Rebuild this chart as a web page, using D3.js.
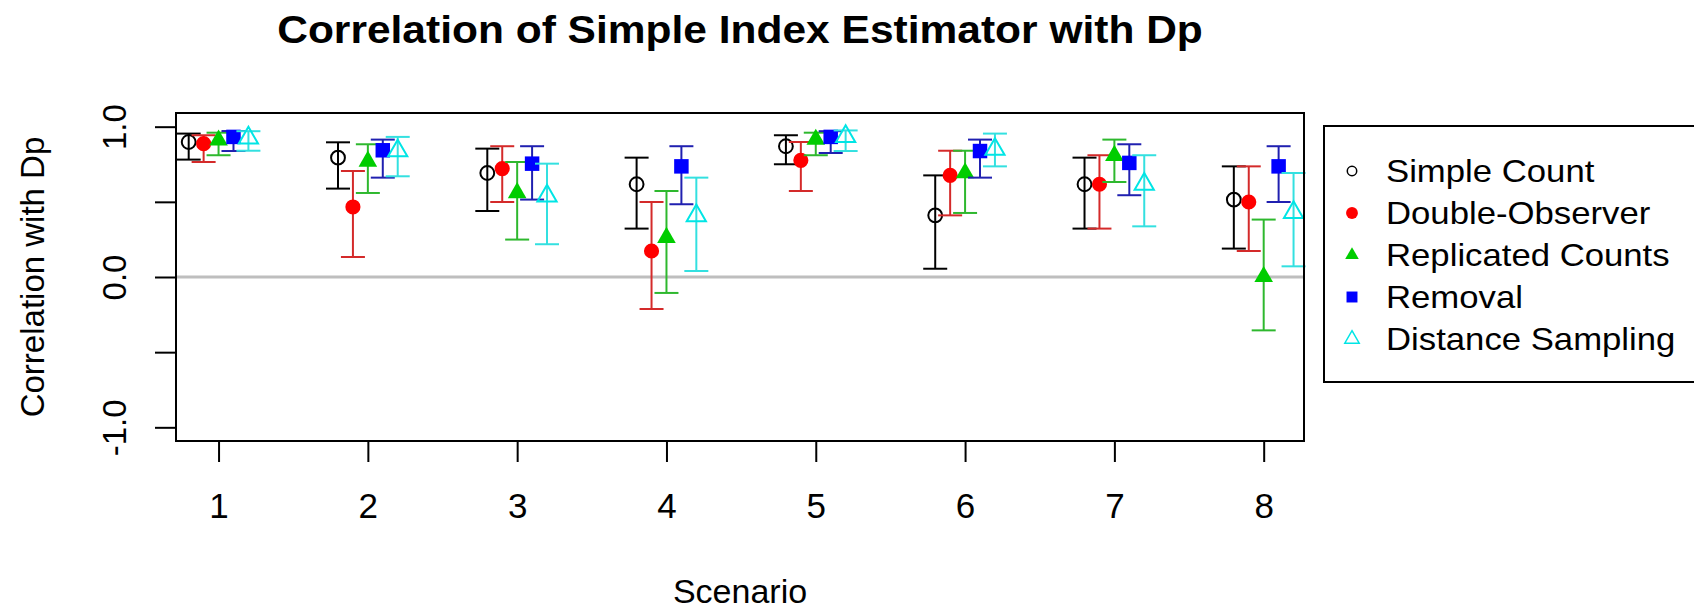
<!DOCTYPE html>
<html>
<head>
<meta charset="utf-8">
<script src="https://cdn.jsdelivr.net/npm/d3@7"></script>
<style>
body { margin: 0; background: #fff; }
svg text { font-family: "Liberation Sans", Arial, sans-serif; fill: #000; }
</style>
</head>
<body>
<svg id="chart" width="1694" height="609"></svg>
<script>
var scenarios = [1, 2, 3, 4, 5, 6, 7, 8];
var method_names = ['Simple Count', 'Double-Observer', 'Replicated Counts', 'Removal', 'Distance Sampling'];

// estimates and interval ends, one entry per scenario
var simple_est = [0.898, 0.794, 0.692, 0.617, 0.870, 0.410, 0.617, 0.515];
var simple_lo  = [0.781, 0.588, 0.439, 0.322, 0.750, 0.055, 0.322, 0.189];
var simple_hi  = [0.954, 0.896, 0.854, 0.794, 0.943, 0.676, 0.794, 0.736];

var double_est = [0.887, 0.466, 0.721, 0.173, 0.776, 0.676, 0.617, 0.499];
var double_lo  = [0.765, 0.133, 0.499, -0.213, 0.572, 0.410, 0.322, 0.173];
var double_hi  = [0.943, 0.705, 0.870, 0.499, 0.898, 0.840, 0.810, 0.736];

var repl_est = [0.910, 0.770, 0.560, 0.262, 0.915, 0.692, 0.808, 0.002];
var repl_lo  = [0.810, 0.559, 0.249, -0.106, 0.810, 0.426, 0.632, -0.355];
var repl_hi  = [0.960, 0.883, 0.765, 0.572, 0.960, 0.840, 0.914, 0.382];

var removal_est = [0.932, 0.843, 0.754, 0.736, 0.932, 0.838, 0.759, 0.736];
var removal_lo  = [0.838, 0.661, 0.515, 0.484, 0.825, 0.661, 0.544, 0.499];
var removal_hi  = [0.971, 0.914, 0.870, 0.870, 0.970, 0.914, 0.883, 0.870];

var dist_est = [0.925, 0.840, 0.540, 0.408, 0.935, 0.850, 0.618, 0.430];
var dist_lo  = [0.840, 0.670, 0.218, 0.040, 0.838, 0.736, 0.337, 0.071];
var dist_hi  = [0.970, 0.932, 0.754, 0.661, 0.975, 0.954, 0.810, 0.692];

var x_offsets = [-0.2, -0.1, 0, 0.1, 0.2];
var y_ticks = [-1, -0.5, 0, 0.5, 1];
var y_tick_labels = ['-1.0', '', '0.0', '', '1.0'];

// styles
var marker_colors = ['#000000', '#ff0000', '#00cd00', '#0000ff', '#00e5e5'];
var bar_colors = ['#000000', '#d42a2a', '#2eb82e', '#2020b0', '#33e0e0'];
var marker_types = [d3.symbolCircle, d3.symbolCircle, d3.symbolTriangle, d3.symbolSquare, d3.symbolTriangle];
var marker_filled = [false, true, true, true, false];
var marker_sizes = [150, 180, 150, 210, 160];
var legend_sizes = [70, 110, 80, 120, 90];

var series = [
	{ est: simple_est, lo: simple_lo, hi: simple_hi },
	{ est: double_est, lo: double_lo, hi: double_hi },
	{ est: repl_est, lo: repl_lo, hi: repl_hi },
	{ est: removal_est, lo: removal_lo, hi: removal_hi },
	{ est: dist_est, lo: dist_lo, hi: dist_hi }
];

var svg = d3.select('#chart');

var x = d3.scaleLinear().domain([0.715, 8.27]).range([176, 1304]);
var y = d3.scaleLinear().domain([-1.091, 1.091]).range([441, 113]);

svg.append('rect').attr('width', 1694).attr('height', 609).attr('fill', '#fff');

// grey reference line at zero
svg.append('line')
	.attr('x1', x.range()[0]).attr('x2', x.range()[1])
	.attr('y1', y(0)).attr('y2', y(0))
	.attr('stroke', '#bebebe').attr('stroke-width', 3);

var cap = 12;

series.forEach(function(s, i)
{
	var pts = scenarios.map(function(sc, j) {
		return { x: sc + x_offsets[i], est: s.est[j], lo: s.lo[j], hi: s.hi[j] };
	});

	var g = svg.append('g').attr('class', 'series');

	g.selectAll('line.bar').data(pts).enter().append('line')
		.attr('x1', function(d) { return x(d.x); })
		.attr('x2', function(d) { return x(d.x); })
		.attr('y1', function(d) { return y(d.lo); })
		.attr('y2', function(d) { return y(d.hi); })
		.attr('stroke', bar_colors[i]).attr('stroke-width', 2);

	['lo', 'hi'].forEach(function(end)
	{
		g.selectAll('line.cap-' + end).data(pts).enter().append('line')
			.attr('x1', function(d) { return x(d.x) - cap; })
			.attr('x2', function(d) { return x(d.x) + cap; })
			.attr('y1', function(d) { return y(d[end]); })
			.attr('y2', function(d) { return y(d[end]); })
			.attr('stroke', bar_colors[i]).attr('stroke-width', 2);
	});

	g.selectAll('path.pt').data(pts).enter().append('path')
		.attr('transform', function(d) { return 'translate(' + x(d.x) + ',' + y(d.est) + ')'; })
		.attr('d', d3.symbol().type(marker_types[i]).size(marker_sizes[i]))
		.attr('fill', marker_filled[i] ? marker_colors[i] : 'none')
		.attr('stroke', marker_colors[i])
		.attr('stroke-width', marker_filled[i] ? 0 : 2);
});

// axes
var y_axis = d3.axisLeft(y).tickValues(y_ticks).tickSize(21)
	.tickFormat(function(d, i) { return y_tick_labels[i]; });

var gy = svg.append('g').attr('transform', 'translate(176,0)').call(y_axis)
	.attr('font-size', null).attr('font-family', null);
gy.select('.domain').remove();
gy.selectAll('line').attr('stroke', '#000').attr('stroke-width', 2);
gy.selectAll('text')
	.attr('x', null).attr('dy', null)
	.attr('text-anchor', 'middle')
	.attr('transform', 'translate(-50,0) rotate(-90)')
	.style('font-size', '33px');

var x_axis = d3.axisBottom(x).tickValues(scenarios).tickSize(21).tickFormat(d3.format('d'));

var gx = svg.append('g').attr('transform', 'translate(0,441)').call(x_axis)
	.attr('font-size', null).attr('font-family', null);
gx.select('.domain').remove();
gx.selectAll('line').attr('stroke', '#000').attr('stroke-width', 2);
gx.selectAll('text').attr('y', 77).attr('dy', null).style('font-size', '35px');

// plot box
svg.append('rect')
	.attr('x', 176).attr('y', 113).attr('width', 1128).attr('height', 328)
	.attr('fill', 'none').attr('stroke', '#000').attr('stroke-width', 2);

// titles
svg.append('text')
	.attr('transform', 'translate(740,43) scale(1.09,1)')
	.attr('text-anchor', 'middle')
	.style('font-size', '39px').style('font-weight', 'bold')
	.text('Correlation of Simple Index Estimator with Dp');

svg.append('text')
	.attr('transform', 'translate(740,603)')
	.attr('text-anchor', 'middle')
	.style('font-size', '34px')
	.text('Scenario');

svg.append('text')
	.attr('transform', 'translate(44,277) rotate(-90)')
	.attr('text-anchor', 'middle')
	.style('font-size', '33px')
	.text('Correlation with Dp');

// legend
var legend = svg.append('g');
legend.append('rect')
	.attr('x', 1324).attr('y', 126).attr('width', 420).attr('height', 256)
	.attr('fill', 'none').attr('stroke', '#000').attr('stroke-width', 2);

var rows = legend.selectAll('g.row').data(method_names).enter().append('g')
	.attr('transform', function(d, i) { return 'translate(1352,' + (171 + i * 42) + ')'; });

rows.append('path')
	.attr('d', function(d, i) { return d3.symbol().type(marker_types[i]).size(legend_sizes[i])(); })
	.attr('fill', function(d, i) { return marker_filled[i] ? marker_colors[i] : 'none'; })
	.attr('stroke', function(d, i) { return marker_colors[i]; })
	.attr('stroke-width', function(d, i) { return marker_filled[i] ? 0 : 1.5; });

rows.append('text')
	.attr('transform', 'translate(34,11) scale(1.085,1)')
	.style('font-size', '32px')
	.text(function(d) { return d; });
</script>
</body>
</html>
